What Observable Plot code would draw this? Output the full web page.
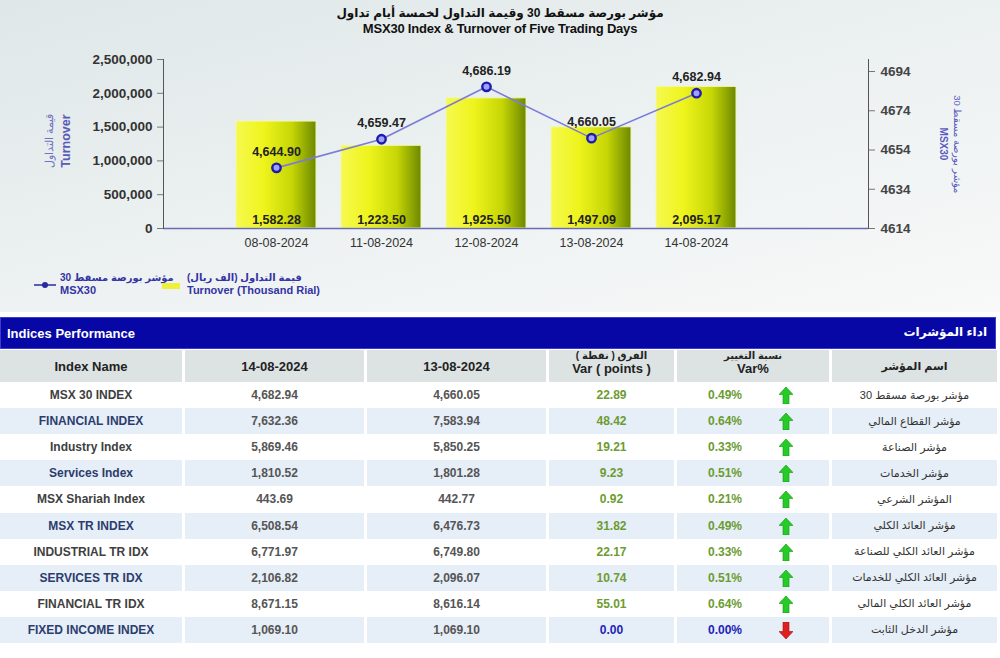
<!DOCTYPE html>
<html><head><meta charset="utf-8">
<script src="https://cdn.jsdelivr.net/npm/d3@7"></script>
<script src="https://cdn.jsdelivr.net/npm/@observablehq/plot@0.6"></script>
<style>
body{margin:0;width:1000px;height:658px;overflow:hidden;background:#fff;font-family:"Liberation Sans",Arial,"DejaVu Sans",sans-serif;position:relative}
#top{position:absolute;left:0;top:0;width:1000px;height:312px;background:linear-gradient(165deg,#dfe7e8 0%,#ebf0f0 45%,#f8f9f9 100%)}
#title{position:absolute;top:5px;left:0;width:1000px;text-align:center;font-weight:bold;color:#111}
#title .ar{font-size:12px;line-height:16px}
#title .en{font-size:13px;line-height:16px;letter-spacing:-0.2px}
#chart{position:absolute;left:0;top:40px}
.lg{position:absolute;color:#3434a4;font-weight:bold;white-space:nowrap}
.lg .a{font-size:10px;line-height:13px}
.lg .e{font-size:11px;line-height:13px}
#bar{position:absolute;left:0;top:317px;width:994px;height:30px;background:#0707a6;border:1px solid #3c3cd0;color:#fff;font-weight:bold}
#bar .l{position:absolute;left:6px;top:8px;font-size:13px}
#bar .r{position:absolute;right:8px;top:7px;font-size:12px}
.row{position:absolute;left:0;width:1000px;display:grid;grid-template-columns:185px 182px 182px 128px 155px 168px}
.row>div{box-sizing:border-box;border-right:3px solid #fff;display:flex;align-items:center;justify-content:center;position:relative;white-space:nowrap}
.hdr{top:350px;height:32px}
.hdr>div{background:#dde3e3;font-weight:bold;color:#222;font-size:13px;flex-direction:column;line-height:13px}
.hdr .sa{font-size:10px;margin-top:-8px}
.d{height:26px;font-size:12px;font-weight:bold;color:#555}
.d.alt>div{background:#e6eef8}
.d .nm{color:#404040}
.d.alt .nm{color:#2c3d6c}
.d .ar{font-weight:normal;font-size:11px;color:#333}
.d .pos{color:#6c9c30}
.d .zero{color:#2323b8}
.pc{position:absolute;left:0;width:96px;text-align:center}
.arw{position:absolute;left:102px;top:5px}
</style></head>
<body>
<div id="top">
  <div id="title"><div class="ar">مؤشر بورصة مسقط 30 وقيمة التداول لخمسة أيام تداول</div><div class="en">MSX30 Index &amp; Turnover of Five Trading Days</div></div>
  <div id="chart"></div>
  <svg style="position:absolute;left:33px;top:280px" width="24" height="10"><line x1="1" y1="5" x2="23" y2="5" stroke="#2a2aa0" stroke-width="1.5"/><circle cx="12" cy="5" r="3" fill="#2a2aa0"/></svg>
  <div class="lg" style="left:60px;top:271px"><div class="a">مؤشر بورصة مسقط 30</div><div class="e">MSX30</div></div>
  <div style="position:absolute;left:162px;top:283px;width:18px;height:6px;background:#eef03a"></div>
  <div class="lg" style="left:187px;top:271px"><div class="a">قيمة التداول (الف ريال)</div><div class="e">Turnover (Thousand Rial)</div></div>
</div>
<div id="bar"><span class="l">Indices Performance</span><span class="r">اداء المؤشرات</span></div>
<div id="table"></div>
<script>
// ---- chart data ----
const dates = ["08-08-2024","11-08-2024","12-08-2024","13-08-2024","14-08-2024"];
const turnoverK = [1582.28,1223.50,1925.50,1497.09,2095.17]; // thousand rial
const msx30 = [4644.90,4659.47,4686.19,4660.05,4682.94];
const leftTicks = [0,500000,1000000,1500000,2000000,2500000];
const rightTicks = [4614,4634,4654,4674,4694];

// ---- table data ----
const idxNames = ["MSX 30 INDEX","FINANCIAL INDEX","Industry Index","Services Index","MSX Shariah Index","MSX TR INDEX","INDUSTRIAL TR IDX","SERVICES TR IDX","FINANCIAL TR IDX","FIXED INCOME INDEX"];
const idxNamesAr = ["مؤشر بورصة مسقط 30","مؤشر القطاع المالي","مؤشر الصناعة","مؤشر الخدمات","المؤشر الشرعي","مؤشر العائد الكلي","مؤشر العائد الكلي للصناعة","مؤشر العائد الكلي للخدمات","مؤشر العائد الكلي المالي","مؤشر الدخل الثابت"];
const close1408 = [4682.94,7632.36,5869.46,1810.52,443.69,6508.54,6771.97,2106.82,8671.15,1069.10];
const close1308 = [4660.05,7583.94,5850.25,1801.28,442.77,6476.73,6749.80,2096.07,8616.14,1069.10];
const varPts = [22.89,48.42,19.21,9.23,0.92,31.82,22.17,10.74,55.01,0.00];
const varPct = [0.49,0.64,0.33,0.51,0.21,0.49,0.33,0.51,0.64,0.00];

const data = dates.map((d,i)=>({date:d, turnover:turnoverK[i]*1000, tk:turnoverK[i], msx:msx30[i]}));
const f2 = d3.format(",.2f");
// secondary axis mapping onto primary scale
const R0 = 4614, R1 = 4694, L1 = 2500000*157/169;
const toLeft = v => (v - R0)/(R1 - R0)*L1;
const fromLeft = d => Math.round(R0 + d/L1*(R1 - R0));
const font = '"Liberation Sans", Arial, sans-serif';

const chart = Plot.plot({
  width: 1000, height: 215,
  marginLeft: 163, marginRight: 132, marginTop: 19, marginBottom: 27,
  style: {background: "transparent", fontFamily: font},
  x: {type: "band", domain: dates, range: [234.5, 738.5], paddingInner: 0.234, paddingOuter: 0, label: null},
  y: {domain: [0, 2500000], label: null},
  marks: [
    Plot.barY(data, {x: "date", y: "turnover", fill: "url(#barGrad)", stroke: "#f2f7b0", strokeWidth: 1}),
    Plot.ruleY([0], {stroke: "#6b6bb5", strokeWidth: 1.5}),
    Plot.frame({anchor: "left", stroke: "#555"}),
    Plot.frame({anchor: "right", stroke: "#555"}),
    Plot.axisY(leftTicks, {anchor: "left", label: null, tickFormat: d3.format(","), tickSize: 6, tickPadding: 5, stroke: "#777", fill: "#333", fontWeight: "bold", fontSize: 13.5}),
    Plot.axisY(rightTicks.map(toLeft), {anchor: "right", label: null, tickFormat: d => String(fromLeft(d)), tickSize: 6, tickPadding: 6, stroke: "#777", fill: "#444", fontWeight: "bold", fontSize: 13.5}),
    Plot.axisX({label: null, tickSize: 0, tickPadding: 10, fill: "#333", fontSize: 12.5}),
    Plot.text(["Turnover"], {frameAnchor: "left", textAnchor: "middle", dx: -98, dy: -3, rotate: -90, fill: "#5a5ab8", fontWeight: "bold", fontSize: 12.5}),
    Plot.text(["قيمة التداول"], {frameAnchor: "left", textAnchor: "middle", dx: -114, dy: -3, rotate: -90, fill: "#7272c4", fontSize: 11}),
    Plot.text(["مؤشر بورصة مسقط 30"], {frameAnchor: "right", textAnchor: "middle", dx: 89, rotate: 90, fill: "#5a5ac0", fontSize: 9.5}),
    Plot.text(["MSX30"], {frameAnchor: "right", textAnchor: "middle", dx: 75, rotate: 90, fill: "#5a5ac0", fontWeight: "bold", fontSize: 10}),
    Plot.text(data, {x: "date", y: 0, text: d => f2(d.tk), dy: -9, fill: "#222", fontWeight: "bold", fontSize: 12.5}),
    Plot.line(data, {x: "date", y: d => toLeft(d.msx), stroke: "#7b7bd8", strokeWidth: 1.6}),
    Plot.dot(data, {x: "date", y: d => toLeft(d.msx), r: 4.2, stroke: "#1c1ca8", strokeWidth: 2.4, fill: "#a0a0ff"}),
    Plot.text(data, {x: "date", y: d => toLeft(d.msx), text: d => f2(d.msx), dy: -16, fill: "#222", fontWeight: "bold", fontSize: 12.5})
  ]
});
d3.select(chart).insert("defs", ":first-child").html(
  `<linearGradient id="barGrad" x1="0" y1="0" x2="1" y2="0">
     <stop offset="0" stop-color="#f6f94e"/>
     <stop offset="0.35" stop-color="#eef41c"/>
     <stop offset="0.7" stop-color="#c6d606"/>
     <stop offset="1" stop-color="#6c8800"/>
   </linearGradient>`);
document.getElementById("chart").appendChild(chart);

// ---- table ----
const tbl = document.getElementById("table");
const hdr = document.createElement("div");
hdr.className = "row hdr";
hdr.innerHTML = `<div>Index Name</div><div>14-08-2024</div><div>13-08-2024</div>
<div><span class="sa">الفرق ( نقطة )</span><span>Var ( points )</span></div>
<div><span class="sa">نسبة التغيير</span><span>Var%</span></div>
<div style="font-size:11px">اسم المؤشر</div>`;
tbl.appendChild(hdr);
const up = `<svg width="14" height="17" viewBox="0 0 14 17"><polygon points="7,0 14,7.5 10,7.5 10,17 4,17 4,7.5 0,7.5" fill="#25cc25" stroke="#159415" stroke-width="0.6"/></svg>`;
const down = `<svg width="14" height="17" viewBox="0 0 14 17"><polygon points="7,17 14,9.5 10,9.5 10,0 4,0 4,9.5 0,9.5" fill="#e02020" stroke="#a01010" stroke-width="0.6"/></svg>`;
idxNames.forEach((n,i)=>{
  const r = document.createElement("div");
  r.className = "row d" + (i%2 ? " alt" : "");
  r.style.top = (382 + i*26.1) + "px";
  const cls = varPts[i] > 0 ? "pos" : "zero";
  r.innerHTML = `<div class="nm">${n}</div><div>${f2(close1408[i])}</div><div>${f2(close1308[i])}</div>
  <div class="${cls}">${f2(varPts[i])}</div>
  <div class="${cls}"><span class="pc">${varPct[i].toFixed(2)}%</span><span class="arw">${varPts[i] > 0 ? up : down}</span></div>
  <div class="ar">${idxNamesAr[i]}</div>`;
  tbl.appendChild(r);
});
</script>
</body></html>
